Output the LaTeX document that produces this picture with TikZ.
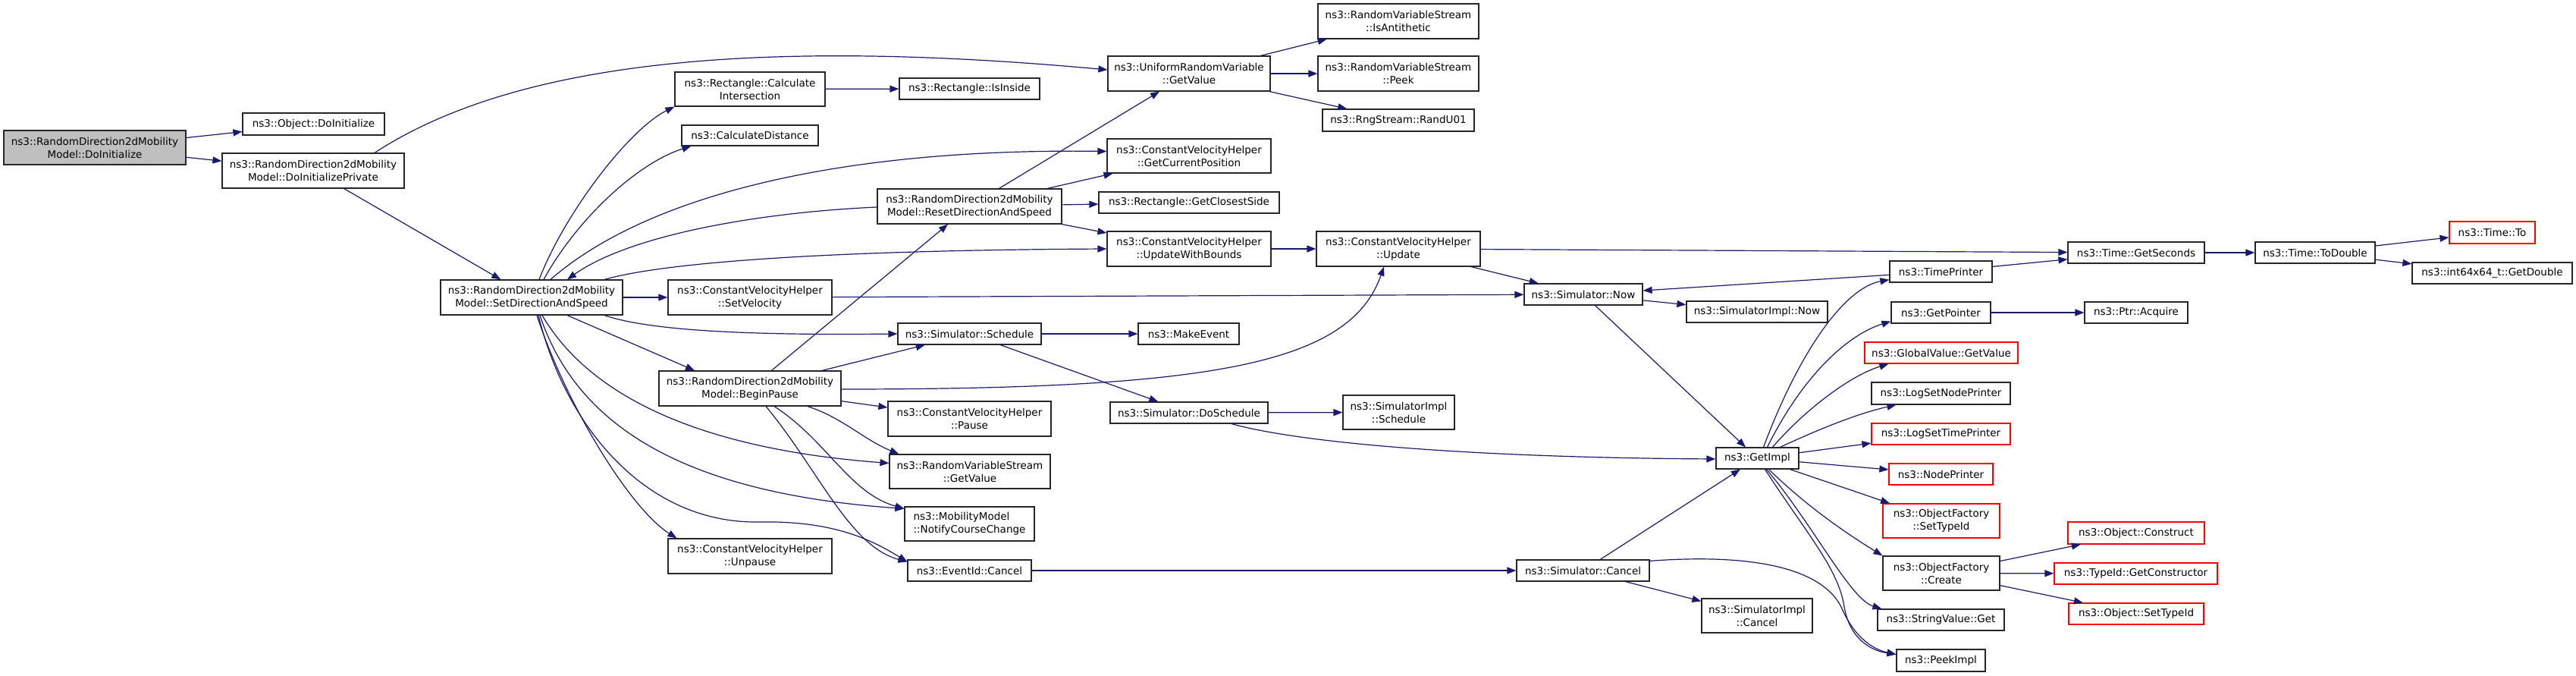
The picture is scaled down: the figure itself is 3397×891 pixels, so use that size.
\documentclass[tikz,border=0pt]{standalone}
\usepackage{fontspec}
\setmainfont{DejaVu Sans}
\usetikzlibrary{arrows.meta}
\definecolor{callblue}{HTML}{191970}

\begin{document}
\begin{tikzpicture}[
    x=1pt, y=-1pt,
    fn/.style={draw=black!85, line width=1.2pt, fill=white, inner sep=0pt, align=center, font=\fontsize{13.5}{17}\selectfont},
    fnred/.style={fn, draw=red},
    fnroot/.style={fn, fill=black!25},
    call/.style={draw=callblue, line width=1.2pt, -{Triangle[length=12pt, width=9pt]}}
  ]
    \useasboundingbox[fill=white] (0,0) rectangle (3397,891);

    \node[fnroot, minimum width=240, minimum height=45] (root) at (125,194.5) {ns3::RandomDirection2dMobility\\Model::DoInitialize};
    \node[fn, minimum width=187, minimum height=29] (objInit) at (413.5,163.5) {ns3::Object::DoInitialize};
    \node[fn, minimum width=240, minimum height=46] (initPriv) at (413,225) {ns3::RandomDirection2dMobility\\Model::DoInitializePrivate};
    \node[fn, minimum width=240, minimum height=46] (setDir) at (701,392) {ns3::RandomDirection2dMobility\\Model::SetDirectionAndSpeed};

    \node[fn, minimum width=198, minimum height=45] (calcInter) at (989,117.5) {ns3::Rectangle::Calculate\\Intersection};
    \node[fn, minimum width=180, minimum height=27] (calcDist) at (989,178.5) {ns3::CalculateDistance};
    \node[fn, minimum width=216, minimum height=46] (setVel) at (989,392) {ns3::ConstantVelocityHelper\\::SetVelocity};
    \node[fn, minimum width=240, minimum height=46] (beginPause) at (989,512) {ns3::RandomDirection2dMobility\\Model::BeginPause};
    \node[fn, minimum width=216, minimum height=46] (unpause) at (989,733) {ns3::ConstantVelocityHelper\\::Unpause};

    \node[fn, minimum width=185, minimum height=28] (isInside) at (1278.5,117) {ns3::Rectangle::IsInside};
    \node[fn, minimum width=243, minimum height=46] (resetDir) at (1278.5,272) {ns3::RandomDirection2dMobility\\Model::ResetDirectionAndSpeed};
    \node[fn, minimum width=189, minimum height=28] (schedule) at (1278.5,440) {ns3::Simulator::Schedule};
    \node[fn, minimum width=215, minimum height=46] (pause) at (1278.5,552) {ns3::ConstantVelocityHelper\\::Pause};
    \node[fn, minimum width=212, minimum height=45] (rvsGet) at (1279,621.5) {ns3::RandomVariableStream\\::GetValue};
    \node[fn, minimum width=171, minimum height=45, align=left] (notify) at (1278.5,690.5) {ns3::MobilityModel\\::NotifyCourseChange};
    \node[fn, minimum width=163, minimum height=28] (evCancel) at (1278.5,752) {ns3::EventId::Cancel};

    \node[fn, minimum width=214, minimum height=46] (uniGet) at (1568,97) {ns3::UniformRandomVariable\\::GetValue};
    \node[fn, minimum width=216, minimum height=45] (getCurPos) at (1568,205.5) {ns3::ConstantVelocityHelper\\::GetCurrentPosition};
    \node[fn, minimum width=238, minimum height=28] (closest) at (1568,267) {ns3::Rectangle::GetClosestSide};
    \node[fn, minimum width=216, minimum height=46] (updBounds) at (1568,328) {ns3::ConstantVelocityHelper\\::UpdateWithBounds};
    \node[fn, minimum width=133, minimum height=28] (makeEvent) at (1567.5,440) {ns3::MakeEvent};
    \node[fn, minimum width=208, minimum height=28] (doSched) at (1568,544) {ns3::Simulator::DoSchedule};

    \node[fn, minimum width=212, minimum height=46] (isAnti) at (1844,28) {ns3::RandomVariableStream\\::IsAntithetic};
    \node[fn, minimum width=212, minimum height=46] (peek) at (1844,97) {ns3::RandomVariableStream\\::Peek};
    \node[fn, minimum width=200, minimum height=29] (randU01) at (1844,158.5) {ns3::RngStream::RandU01};
    \node[fn, minimum width=216, minimum height=46] (update) at (1844,328) {ns3::ConstantVelocityHelper\\::Update};
    \node[fn, minimum width=147, minimum height=45] (implSched) at (1844.5,543.5) {ns3::SimulatorImpl\\::Schedule};

    \node[fn, minimum width=156, minimum height=28] (now) at (2088,388) {ns3::Simulator::Now};
    \node[fn, minimum width=175, minimum height=28] (simCancel) at (2087.5,752) {ns3::Simulator::Cancel};
    \node[fn, minimum width=186, minimum height=28] (implNow) at (2317,411) {ns3::SimulatorImpl::Now};
    \node[fn, minimum width=109, minimum height=28] (getImpl) at (2317.5,604) {ns3::GetImpl};
    \node[fn, minimum width=146, minimum height=45] (implCancel) at (2317,811.5) {ns3::SimulatorImpl\\::Cancel};

    \node[fn, minimum width=135, minimum height=28] (timePrinter) at (2559.5,358) {ns3::TimePrinter};
    \node[fn, minimum width=131, minimum height=28] (getPointer) at (2559.5,412) {ns3::GetPointer};
    \node[fnred, minimum width=202, minimum height=28] (globalVal) at (2560,465) {ns3::GlobalValue::GetValue};
    \node[fn, minimum width=183, minimum height=29] (logNode) at (2559.5,518.5) {ns3::LogSetNodePrinter};
    \node[fnred, minimum width=183, minimum height=28] (logTime) at (2559.5,572) {ns3::LogSetTimePrinter};
    \node[fnred, minimum width=137, minimum height=28] (nodePrinter) at (2559.5,625) {ns3::NodePrinter};
    \node[fnred, minimum width=154, minimum height=45] (ofSetType) at (2560,686.5) {ns3::ObjectFactory\\::SetTypeId};
    \node[fn, minimum width=154, minimum height=45] (ofCreate) at (2560,755.5) {ns3::ObjectFactory\\::Create};
    \node[fn, minimum width=167, minimum height=28] (strGet) at (2559.5,817) {ns3::StringValue::Get};
    \node[fn, minimum width=117, minimum height=29] (peekImpl) at (2559.5,870.5) {ns3::PeekImpl};

    \node[fn, minimum width=180, minimum height=28] (getSeconds) at (2817,333) {ns3::Time::GetSeconds};
    \node[fn, minimum width=136, minimum height=28] (acquire) at (2817,412) {ns3::Ptr::Acquire};
    \node[fnred, minimum width=180, minimum height=29] (construct) at (2817,702.5) {ns3::Object::Construct};
    \node[fnred, minimum width=215, minimum height=28] (getCtor) at (2816.5,756) {ns3::TypeId::GetConstructor};
    \node[fnred, minimum width=178, minimum height=28] (objSetType) at (2817,809) {ns3::Object::SetTypeId};
    \node[fn, minimum width=158, minimum height=28] (toDouble) at (3053,333) {ns3::Time::ToDouble};
    \node[fnred, minimum width=113, minimum height=29] (timeTo) at (3286.5,306.5) {ns3::Time::To};
    \node[fn, minimum width=211, minimum height=28] (getDouble) at (3286.5,360) {ns3::int64x64\_t::GetDouble};

    \draw[call] (root) -- (objInit);
    \draw[call] (root) -- (initPriv);
    \draw[call] (initPriv) -- (setDir);
    \draw[call] ([xshift=81]initPriv.north) .. controls (680,80) and (1000,50) .. ([yshift=5]uniGet.west);

    \draw[call] ([xshift=10]setDir.north) .. controls (745,280) and (830,170) .. (calcInter.south west);
    \draw[call] ([xshift=16]setDir.north) .. controls (760,290) and (840,215) .. ([xshift=13]calcDist.south west);
    \draw[call] ([xshift=25]setDir.north) .. controls (850,260) and (1100,195) .. ([yshift=6]getCurPos.west);
    \draw[call] ([xshift=96]setDir.north) .. controls (880,345) and (1100,330) .. (updBounds.west);
    \draw[call] (setDir) -- (setVel);
    \draw[call] ([xshift=47]setDir.south) -- ([xshift=-73]beginPause.north);
    \draw[call] ([xshift=96]setDir.south) .. controls (860,437) and (1000,442) .. (schedule.west);
    \draw[call] ([xshift=7]setDir.south) .. controls (745,530) and (830,670) .. ([xshift=12]unpause.north west);
    \draw[call] ([xshift=14]setDir.south) .. controls (770,510) and (900,590) .. ([yshift=11]rvsGet.west);
    \draw[call] ([xshift=11]setDir.south) .. controls (760,560) and (900,650) .. ([yshift=-3]notify.north west);
    \draw[call] ([xshift=9]setDir.south) .. controls (745,560) and (850,690) .. (1000,688)
        .. controls (1100,686) and (1150,712) .. ([yshift=-3]evCancel.north west);

    \draw[call] ([yshift=-1]resetDir.west) .. controls (1000,280) and (830,310) .. ([xshift=47]setDir.north);
    \draw[call] (resetDir) -- (uniGet);
    \draw[call] (resetDir) -- (getCurPos);
    \draw[call] (resetDir) -- (closest);
    \draw[call] (resetDir) -- (updBounds);

    \draw[call] (beginPause) -- (resetDir);
    \draw[call] (beginPause) -- (schedule);
    \draw[call] (beginPause) -- (pause);
    \draw[call] ([yshift=-1]beginPause.east) .. controls (1600,513) and (1780,480) .. ([xshift=-19]update.south);
    \draw[call] ([xshift=76]beginPause.south) .. controls (1110,550) and (1140,580) .. ([xshift=13]rvsGet.north west);
    \draw[call] ([xshift=32]beginPause.south) .. controls (1090,580) and (1120,650) .. ([yshift=-3]notify.north west);
    \draw[call] ([xshift=21]beginPause.south) .. controls (1080,620) and (1120,720) .. ([yshift=-3]evCancel.north west);

    \draw[call] (calcInter) -- (isInside);
    \draw[call] (uniGet) -- (isAnti);
    \draw[call] (uniGet) -- (peek);
    \draw[call] (uniGet) -- (randU01);
    \draw[call] (updBounds) -- (update);
    \draw[call] (update) -- (getSeconds);
    \draw[call] (update) -- (now);
    \draw[call] (setVel) -- (now);

    \draw[call] (schedule) -- (makeEvent);
    \draw[call] (schedule) -- (doSched);
    \draw[call] (doSched) -- (implSched);
    \draw[call] ([xshift=56]doSched.south) .. controls (1720,585) and (1950,603) .. ([yshift=-1]getImpl.west);
    \draw[call] (evCancel) -- (simCancel);
    \draw[call] (simCancel) -- (getImpl);
    \draw[call] (simCancel) -- (implCancel);
    \draw[call] ([yshift=-2]simCancel.north east) .. controls (2300,730) and (2400,745) .. (2428,800)
        .. controls (2445,840) and (2470,856) .. ([yshift=8]peekImpl.west);

    \draw[call] (now) -- (implNow);
    \draw[call] (now) -- (getImpl);
    \draw[call] (timePrinter) -- (now);
    \draw[call] (timePrinter) -- (getSeconds);

    \draw[call] ([xshift=8]getImpl.north) .. controls (2370,470) and (2430,380) .. ([yshift=4]timePrinter.south west);
    \draw[call] ([xshift=13]getImpl.north) .. controls (2380,490) and (2440,440) .. ([yshift=3]getPointer.south west);
    \draw[call] ([xshift=20]getImpl.north) .. controls (2380,540) and (2440,495) .. ([xshift=32]globalVal.south west);
    \draw[call] ([xshift=30]getImpl.north) .. controls (2400,565) and (2450,545) .. ([xshift=33]logNode.south west);
    \draw[call] (getImpl) -- (logTime);
    \draw[call] (getImpl) -- (nodePrinter);
    \draw[call] (getImpl) -- (ofSetType);
    \draw[call] ([xshift=15]getImpl.south) .. controls (2380,665) and (2430,700) .. (ofCreate.north west);
    \draw[call] ([xshift=12]getImpl.south) .. controls (2390,690) and (2440,790) .. ([xshift=6]strGet.north west);
    \draw[call] ([xshift=10]getImpl.south) .. controls (2380,700) and (2425,750) .. (2432,800)
        .. controls (2440,845) and (2470,858) .. ([yshift=8]peekImpl.west);

    \draw[call] (getPointer) -- (acquire);
    \draw[call] (getSeconds) -- (toDouble);
    \draw[call] (toDouble) -- (timeTo);
    \draw[call] (toDouble) -- (getDouble);
    \draw[call] (ofCreate) -- (construct);
    \draw[call] (ofCreate) -- (getCtor);
    \draw[call] (ofCreate) -- (objSetType);
\end{tikzpicture}
\end{document}
